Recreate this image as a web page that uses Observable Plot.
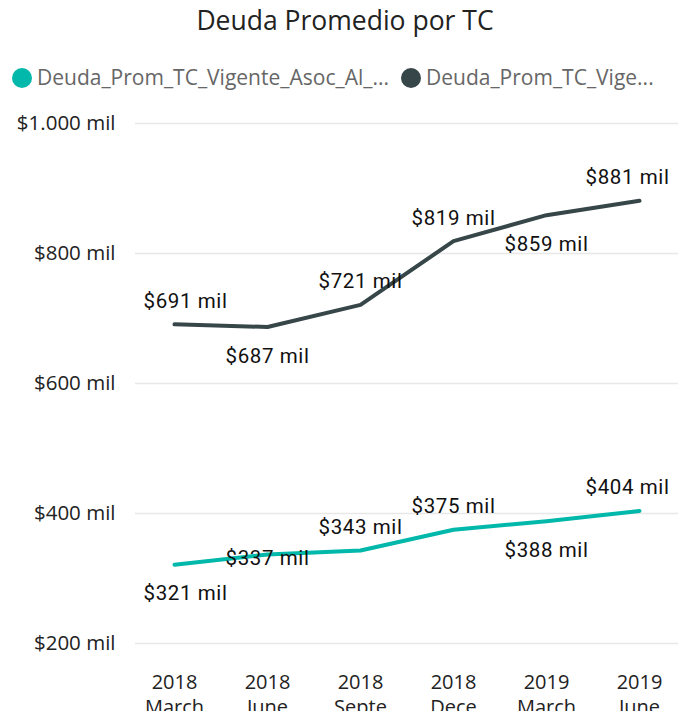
<!DOCTYPE html>
<html><head><meta charset="utf-8">
<script src="https://cdn.jsdelivr.net/npm/d3@7"></script>
<script src="https://cdn.jsdelivr.net/npm/@observablehq/plot@0.6"></script>
<style>
body{margin:0;background:#fff;width:680px;height:711px;overflow:hidden;font-family:"Open Sans",sans-serif}
#title{position:absolute;left:0;top:2px;width:690px;text-align:center;font-size:26.5px;color:#222;}
#legend{position:absolute;left:12px;top:63px;font-size:21px;color:#666;white-space:nowrap;}
#legend span.dot{display:inline-block;width:20px;height:20px;border-radius:50%;vertical-align:-3px;margin-right:5px}
#legend span.item{margin-right:12px}
#chart{position:absolute;left:0;top:100px}
</style></head><body>
<div id="title">Deuda Promedio por TC</div>
<div id="legend"></div>
<div id="chart"></div>
<script>
const periods = ["2018 March","2018 June","2018 Septe","2018 Dece","2019 March","2019 June"];
const seriesNames = ["Deuda_Prom_TC_Vigente_Asoc_Al_...","Deuda_Prom_TC_Vige..."];
const seriesA = [321, 337, 343, 375, 388, 404];
const seriesB = [691, 687, 721, 819, 859, 881];
const yTicks = [200, 400, 600, 800, 1000];
// label placement: 1 = above, -1 = below, 0 = on line
const labelSideA = [-1, 0, 1, 1, -1, 1];
const labelSideB = [1, -1, 1, 1, -1, 1];
const colors = ["#01B8AA", "#374649"];

const rows = [];
[seriesA, seriesB].forEach((vals, s) => {
  const sides = s === 0 ? labelSideA : labelSideB;
  vals.forEach((v, i) => rows.push({period: periods[i], idx: i, value: v, series: seriesNames[s], side: sides[i]}));
});

const legend = document.getElementById("legend");
seriesNames.forEach((n, i) => {
  const it = document.createElement("span");
  it.className = "item";
  it.innerHTML = `<span class="dot" style="background:${colors[i]}"></span>${n}`;
  legend.appendChild(it);
});

const fmt = v => "$" + v + " mil";
const fmtTick = v => "$" + d3.format(",")(v).replace(/,/g, ".") + " mil";
const labelFont = "Roboto, sans-serif";
const labelOpts = {x: "period", y: "value", text: d => fmt(d.value), fontSize: 20.5, fontWeight: 400, fill: "#111", fontFamily: labelFont};
const dyBySide = {"1": -23, "-1": 29, "0": 4};
const last = periods.length - 1;
const labelMarks = [];
for (const side of [1, -1, 0]) {
  const sub = rows.filter(d => d.side === side);
  labelMarks.push(Plot.text(sub.filter(d => d.idx > 0 && d.idx < last), {...labelOpts, dy: dyBySide[side]}));
  labelMarks.push(Plot.text(sub.filter(d => d.idx === 0), {...labelOpts, dy: dyBySide[side], dx: 11}));
  labelMarks.push(Plot.text(sub.filter(d => d.idx === last), {...labelOpts, dy: dyBySide[side], dx: -12}));
}

const chart = Plot.plot({
  width: 680,
  height: 611,
  marginTop: 23,
  marginBottom: 68,
  marginLeft: 135,
  marginRight: 2,
  style: {fontFamily: "'Open Sans', sans-serif", background: "white"},
  x: {domain: periods, type: "point", padding: 0.41, label: null},
  y: {domain: [200, 1000], label: null},
  color: {domain: seriesNames, range: colors},
  marks: [
    Plot.ruleY(yTicks, {stroke: "#e8e8e8", strokeWidth: 1.5}),
    Plot.axisY({ticks: yTicks, tickFormat: fmtTick, tickSize: 0, tickPadding: 20, fontSize: 20.5, fill: "#222", label: null}),
    Plot.axisX({tickSize: 0, tickPadding: 28, fontSize: 20, fill: "#222", label: null,
      tickFormat: d => d.replace(" ", "\n"), lineHeight: 1.25}),
    Plot.line(rows, {x: "period", y: "value", z: "series", stroke: "series", strokeWidth: 4, curve: "linear"}),
    ...labelMarks
  ]
});
chart.querySelectorAll("g").forEach(g => {
  if (g.getAttribute("font-family") === labelFont) g.style.letterSpacing = "0.6px";
});
document.getElementById("chart").appendChild(chart);
</script>
</body></html>
